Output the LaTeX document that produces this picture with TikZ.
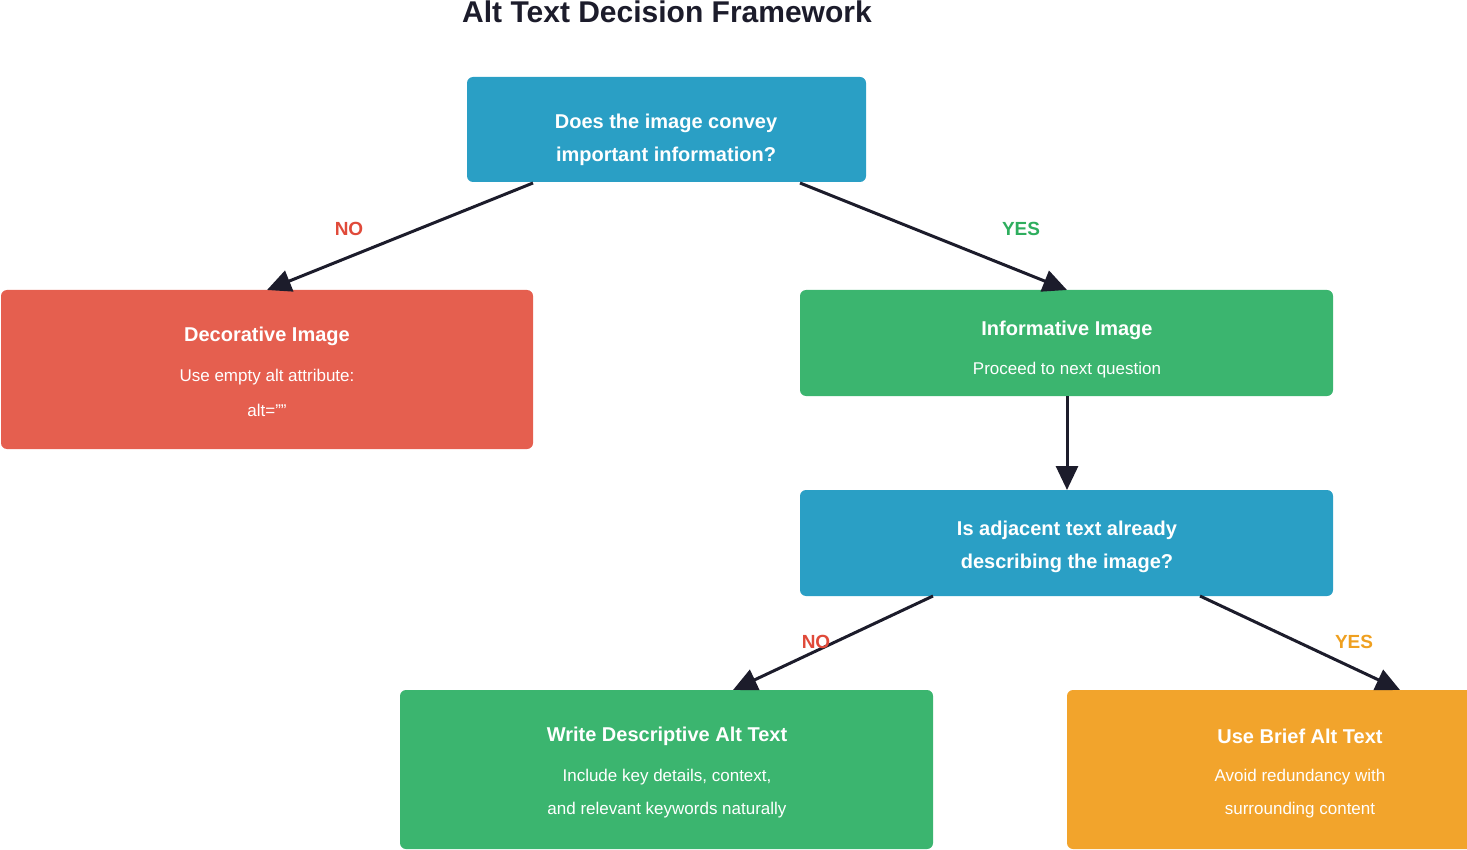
\documentclass[tikz,border=0pt]{standalone}
\usepackage{fontspec}
\setmainfont{Liberation Sans}
\usetikzlibrary{arrows.meta}
\definecolor{qblue}{HTML}{2A9FC5}
\definecolor{dred}{HTML}{E55F4F}
\definecolor{igreen}{HTML}{3BB56F}
\definecolor{borange}{HTML}{F2A42C}
\definecolor{ink}{HTML}{1C1C2B}
\definecolor{lred}{HTML}{E04A3A}
\definecolor{lgreen}{HTML}{2EAE5E}
\definecolor{lorange}{HTML}{EFA020}
\begin{document}
\begin{tikzpicture}[x=1pt,y=-1pt,
 box/.style={rounded corners=6pt,draw=none},
 head/.style={text=white,font=\fontsize{20}{24}\selectfont\bfseries},
 sub/.style={text=white,font=\fontsize{17}{20}\selectfont},
 arr/.style={draw=ink,line width=3pt,-{Triangle[length=24pt,width=22pt]}},
 lab/.style={font=\fontsize{19}{22}\selectfont\bfseries}]
\useasboundingbox (0,0) rectangle (1467,850);
\begin{scope}
\clip (0,0) rectangle (1467,850);
\node[font=\fontsize{30}{34}\selectfont\bfseries,text=ink] (title) at (667,12) {Alt Text Decision Framework};
\filldraw[box,fill=qblue] (467,77) rectangle (866,182);
\node[head] (q1a) at (666,123) {Does the image convey};
\node[head] (q1b) at (666,156) {important information?};
\filldraw[box,fill=dred] (1,290) rectangle (533,449);
\node[head] (d1) at (267,336) {Decorative Image};
\node[sub] (d2) at (267,377) {Use empty alt attribute:};
\node[sub] (d3) at (267,410) {alt=""};
\filldraw[box,fill=igreen] (800,290) rectangle (1333,396);
\node[head] (i1) at (1067,330) {Informative Image};
\node[sub] (i2) at (1067,370) {Proceed to next question};
\filldraw[box,fill=qblue] (800,490) rectangle (1333,596);
\node[head] (q2a) at (1067,530) {Is adjacent text already};
\node[head] (q2b) at (1067,563) {describing the image?};
\filldraw[box,fill=igreen] (400,690) rectangle (933,849);
\node[head] (w1) at (667,736) {Write Descriptive Alt Text};
\node[sub] (w2) at (667,777) {Include key details, context,};
\node[sub] (w3) at (667,810) {and relevant keywords naturally};
\filldraw[box,fill=borange] (1067,690) rectangle (1600,849);
\node[head] (b1) at (1300,736) {Use Brief Alt Text};
\node[sub] (b2) at (1300,777) {Avoid redundancy with};
\node[sub] (b3) at (1300,810) {surrounding content};
\coordinate (a1s) at (533,183); \coordinate (a1e) at (267,290);
\coordinate (a2s) at (800,183); \coordinate (a2e) at (1067,290);
\coordinate (a3s) at (1067,396); \coordinate (a3e) at (1067,490);
\coordinate (a4s) at (933,596); \coordinate (a4e) at (733,690);
\coordinate (a5s) at (1200,596); \coordinate (a5e) at (1400,690);
\draw[arr] (a1s) -- (a1e);
\draw[arr] (a2s) -- (a2e);
\draw[arr] (a3s) -- (a3e);
\draw[arr] (a4s) -- (a4e);
\draw[arr] (a5s) -- (a5e);
\node[lab,text=lred] (n1) at (349,229) {NO};
\node[lab,text=lgreen] (y1) at (1021,229) {YES};
\node[lab,text=lred] (n2) at (816,642) {NO};
\node[lab,text=lorange] (y2) at (1354,642) {YES};
\end{scope}
\end{tikzpicture}
\end{document}
